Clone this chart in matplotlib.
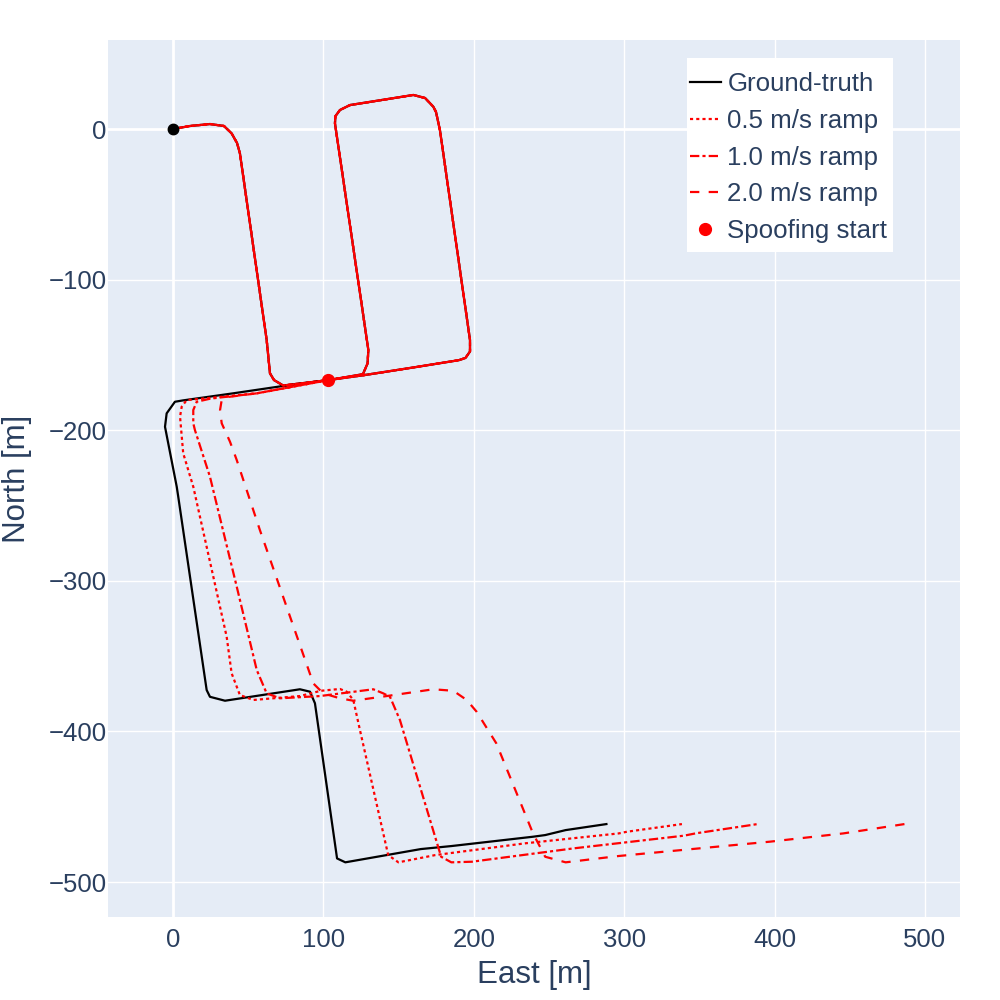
import matplotlib
matplotlib.use("Agg")
import matplotlib.pyplot as plt
from matplotlib.patches import Rectangle
from matplotlib.lines import Line2D

# ---------------- data (East, North in metres) ----------------
gt_east = [0, 11.3, 24.6, 33.9, 39.0, 42.6, 44.5, 62.3, 64.5, 67.2, 73.3,
           103.4, 126.5, 160.0, 190.0, 194.5, 197.5, 197.5,
           177.5, 174.9, 173.1, 167.6, 159.8, 117.7, 111.0, 108.0, 107.7,
           126.3, 129.9, 129.4, 126.3,
           103.4, 73.3, 40.0, 6.6, 1.3, -4.2, -5.3, 2.5, 3.5, 22.4, 24.6, 34.6,
           84.4, 91.1, 94.4, 109.1, 114.6, 164.8, 185.1, 239.4, 247.5, 261.1, 288.2]
gt_north = [0, 2.0, 3.3, 2.0, -2.9, -9.3, -16.1, -140.1, -162.2, -166.7, -170.3,
            -166.7, -163.5, -158.3, -153.5, -152.0, -147.7, -140.1,
            -0.7, 11.3, 14.8, 20.6, 22.6, 15.9, 12.6, 8.5, 3.8,
            -122.2, -146.7, -155.6, -162.8,
            -166.7, -170.6, -175.5, -180.2, -181.1, -188.8, -197.7, -237.5, -244.1,
            -372.5, -377.0, -379.6,
            -372.0, -373.6, -381.3, -484.3, -486.9, -478.1, -476.1, -469.9, -468.8,
            -465.5, -461.5]

# index in the ground-truth list where spoofing begins
spoof_idx = 31
spoof_east = [103.4]
spoof_north = [-166.7]

ramp05_east = [55.7, 20.0, 9.1, 5.8, 4.7, 6.8, 13.5, 35.7, 39.0, 44.5, 53.4,
               84.4, 98.3, 111.0, 115.5, 119.9, 124.3, 143.1, 149.9, 174.3,
               234.0, 296.4, 301.8, 338.4]
ramp05_north = [-175.5, -179.0, -180.0, -184.4, -191.0, -215.3, -237.5, -337.1,
                -361.4, -375.8, -379.1, -376.5, -373.0, -371.8, -373.6, -379.1,
                -399.0, -482.1, -486.9, -482.1, -474.3, -467.7, -466.6, -461.5]

ramp10_east = [55.7, 25.0, 15.8, 13.5, 13.5, 14.6, 24.6, 42.4, 55.7, 62.3, 71.1,
               97.7, 133.2, 139.8, 144.3, 150.9, 178.3, 185.1, 198.7, 266.6,
               339.8, 347.9, 388.7]
ramp10_north = [-175.5, -179.0, -181.1, -186.6, -195.4, -199.9, -230.9, -303.9,
                -359.2, -374.7, -378.0, -376.5, -372.0, -374.7, -377.0, -392.4,
                -483.2, -486.9, -486.5, -477.6, -469.2, -467.6, -461.5]

ramp20_east = [55.7, 36.0, 32.4, 31.3, 32.4, 37.9, 42.4, 57.8, 93.3, 99.9, 111.0,
               119.9, 142.1, 173.1, 186.4, 195.3, 201.9, 215.0, 239.4, 247.5,
               261.1, 296.4, 396.8, 445.7, 486.4]
ramp20_north = [-175.5, -178.0, -179.9, -186.6, -195.4, -207.6, -219.8, -266.3,
                -368.1, -374.7, -378.0, -379.6, -376.5, -372.0, -373.0, -379.1,
                -386.9, -407.9, -467.7, -483.2, -486.9, -482.7, -473.2, -467.7,
                -461.5]

labels = ['Ground-truth', '0.5 m/s ramp', '1.0 m/s ramp', '2.0 m/s ramp',
          'Spoofing start']
x_ticks = [0, 100, 200, 300, 400, 500]
y_ticks = [0, -100, -200, -300, -400, -500]

# ---------------- style ----------------
plt.rcParams['font.family'] = ['Liberation Sans', 'DejaVu Sans']
TXT = '#2a3f5f'
BG = '#E5ECF6'

fig = plt.figure(figsize=(10, 10), dpi=100)
ax = fig.add_axes([0.108, 0.083, 0.852, 0.877])
ax.set_facecolor(BG)
for s in ax.spines.values():
    s.set_visible(False)

ax.set_xlim(-43.2, 523.3)
ax.set_ylim(-523.2, 59.1)
ax.set_xticks(x_ticks)
ax.set_yticks(y_ticks)
ax.set_xticklabels([str(v) for v in x_ticks])
ax.set_yticklabels([str(v).replace('-', '\u2212') for v in y_ticks])
ax.tick_params(length=0, labelsize=18.5, colors=TXT)
ax.tick_params(axis='x', pad=8)
ax.tick_params(axis='y', pad=1)
ax.grid(True, color='white', linewidth=1.0)
ax.set_axisbelow(True)
ax.axhline(0, color='white', linewidth=2.0, zorder=0.5)
ax.axvline(0, color='white', linewidth=2.0, zorder=0.5)

lw = 1.6
DOT = (1.4, 1.4)
DASHDOT = (4.2, 1.4, 1.4, 1.4)
DASH = (4.2, 4.2)
pre_e = gt_east[:spoof_idx + 1]
pre_n = gt_north[:spoof_idx + 1]

ax.plot(gt_east, gt_north, color='black', lw=lw, zorder=3)
ax.plot(pre_e + ramp05_east, pre_n + ramp05_north, color='red', lw=lw,
        linestyle=(0, DOT), zorder=4)
ax.plot(pre_e + ramp10_east, pre_n + ramp10_north, color='red', lw=lw,
        linestyle=(0, DASHDOT), zorder=4)
ax.plot(pre_e + ramp20_east, pre_n + ramp20_north, color='red', lw=lw,
        linestyle=(4.2, DASH), zorder=4)
ax.plot(gt_east[:1], gt_north[:1], 'o', color='black', ms=7.5, zorder=5)
ax.plot(spoof_east, spoof_north, 'o', color='red', ms=8.5, lw=0, zorder=5)

ax.set_xlabel('East [m]', fontsize=22.5, color=TXT, labelpad=6)
ax.set_ylabel('North [m]', fontsize=22.5, color=TXT)
ax.yaxis.set_label_coords(-0.089, 0.5)

handles = [
    Line2D([], [], color='black', lw=lw),
    Line2D([], [], color='red', lw=lw, linestyle=(0, DOT)),
    Line2D([], [], color='red', lw=lw, linestyle=(0, DASHDOT)),
    Line2D([], [], color='red', lw=lw, linestyle=(0, DASH)),
    Line2D([], [], color='red', marker='o', ms=8.5, lw=0),
]

# legend background box (white, no border)
fig.patches.append(Rectangle((0.687, 1 - 0.252), 0.206, 0.194,
                             transform=fig.transFigure, facecolor='white',
                             edgecolor='none', zorder=4))

leg = fig.legend(handles, labels, loc='upper right',
                 bbox_to_anchor=(0.895, 0.936),
                 fontsize=18.6, frameon=False,
                 handlelength=1.2, handletextpad=0.25, borderpad=0.3,
                 labelspacing=0.5, borderaxespad=0)
leg.set_zorder(5)
for t in leg.get_texts():
    t.set_color(TXT)

fig.savefig('out.png', dpi=100)
